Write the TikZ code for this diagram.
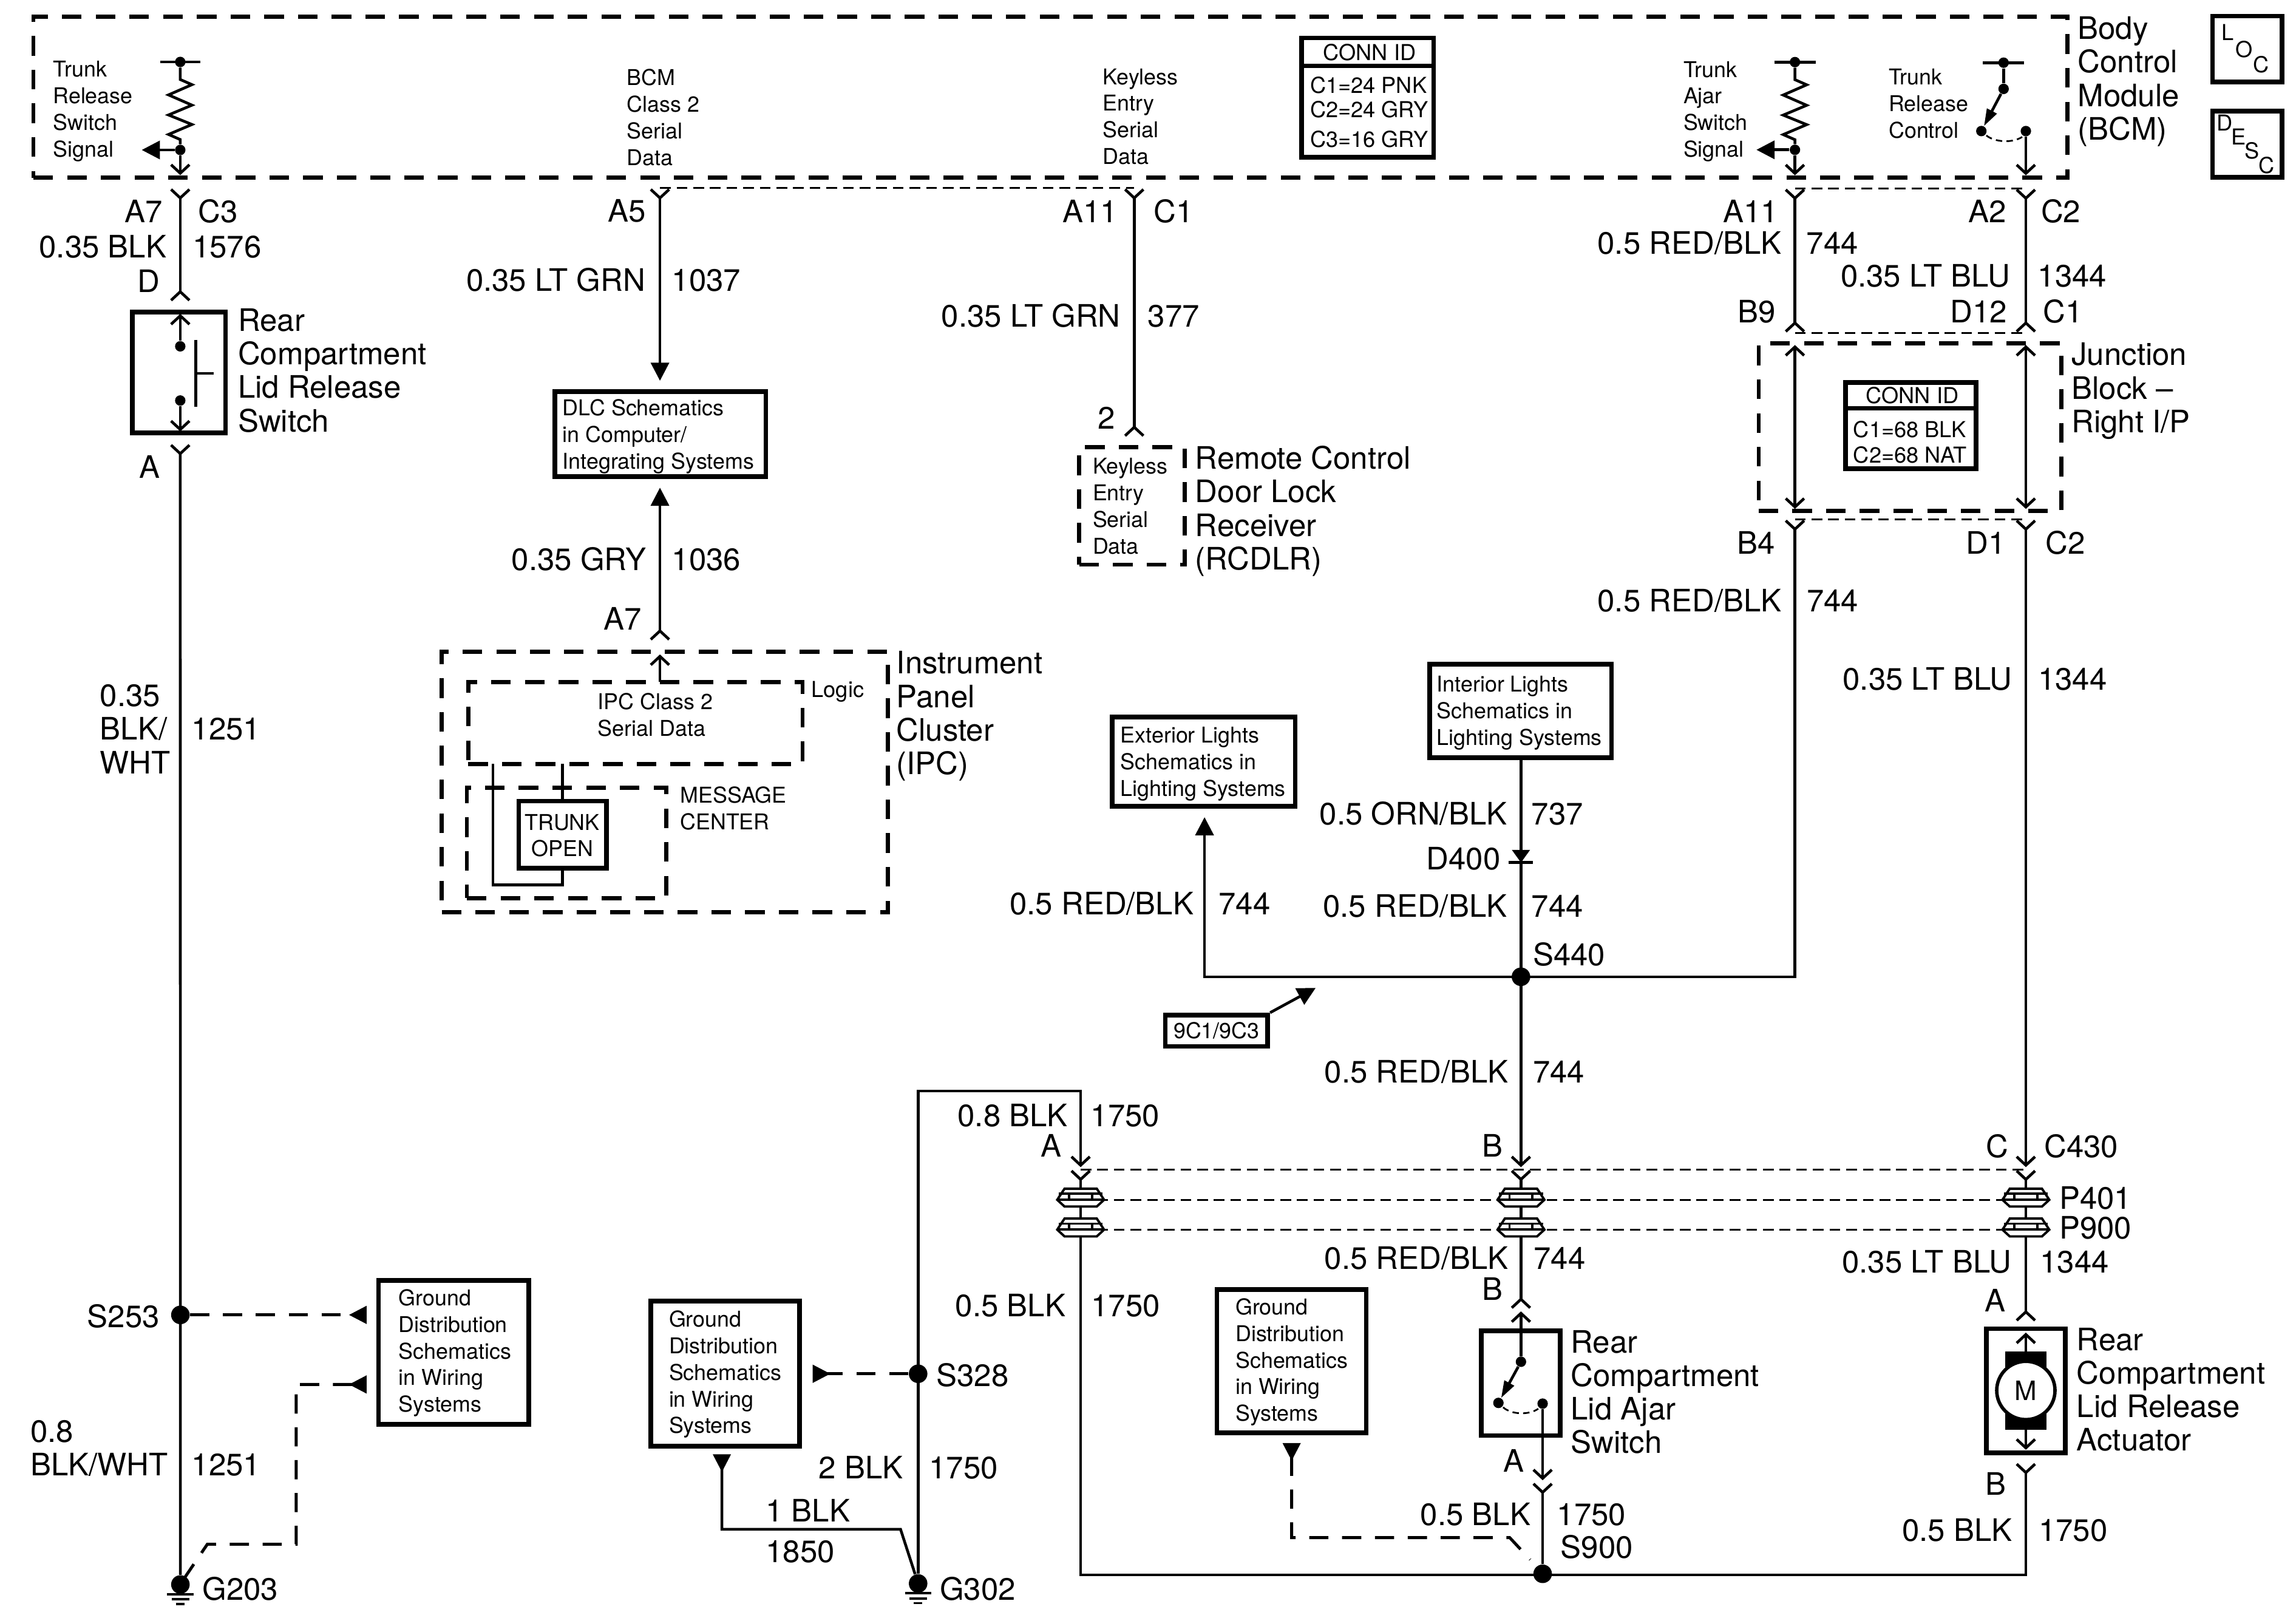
\documentclass[tikz,border=0pt]{standalone}
\usepackage{fontspec}
\setmainfont{TeX Gyre Heros}
\usetikzlibrary{arrows.meta,shapes,positioning}
\def\pxu{0.2412mm}
\tikzset{
  fem/.tip={Straight Barb[reversed,length=4pt,width=8.6pt]},
  male/.tip={Straight Barb[length=4pt,width=8.6pt]},
  tri/.tip={Triangle[length=8.5pt,width=8.5pt]},
  trir/.tip={Triangle[reversed,length=8.3pt,width=8.2pt]},
  armtip/.tip={Triangle[length=8pt,width=5pt]}
}
\tikzstyle{wire} = [draw, line width=1.3pt]
\tikzstyle{gline} = [draw, line width=1.1pt]
\tikzstyle{plugline} = [draw, line width=1.1pt]
\tikzstyle{thindash} = [draw, line width=0.8pt, dash pattern=on 5pt off 2.8pt]
\tikzstyle{arcdash} = [draw, line width=0.8pt, dash pattern=on 3pt off 2pt]
\tikzstyle{refdash} = [draw, line width=1.4pt, dash pattern=on 9pt off 6.4pt]
\tikzstyle{rbox} = [rectangle, draw, line width=2.2pt, inner sep=0pt]
\tikzstyle{dashbox} = [rectangle, draw, line width=1.9pt, dash pattern=on 9.2pt off 6.6pt, inner sep=0pt]
\tikzstyle{sdot} = [circle, fill=black, inner sep=0pt, minimum size=4.9pt]
\tikzstyle{bdot} = [circle, fill=black, inner sep=0pt, minimum size=8.7pt]
\tikzstyle{bigtxt} = [inner sep=0pt, yshift=-0.6pt, align=left, anchor=north west, font=\fontsize{14.5}{15.7}\selectfont]
\tikzstyle{smalltxt} = [inner sep=0pt, align=left, anchor=north west, font=\fontsize{10.2}{12.45}\selectfont]
\tikzstyle{wl} = [inner sep=0pt, yshift=-0.6pt, anchor=base east, font=\fontsize{14.5}{15.7}\selectfont]
\tikzstyle{wr} = [inner sep=0pt, yshift=-0.6pt, anchor=base west, font=\fontsize{14.5}{15.7}\selectfont]
\tikzstyle{letter} = [inner sep=0pt, anchor=base west, font=\fontsize{10.3}{12}\selectfont]
\newcommand{\plug}[2]{
  \begin{scope}[shift={(#1,#2)}]
    \path[plugline, fill=white] (-16,0) -- (-11,-7.6) -- (11,-7.6) -- (16,0) -- (11,4.6) -- (-11,4.6) -- cycle;
    \path[plugline] (-15,-4.1) -- (15,-4.1);
    \path[plugline] (-16,0) -- (16,0);
    \path[plugline] (-7.8,-4.1) -- (-7.8,0);
    \path[plugline] (7.8,-4.1) -- (7.8,0);
  \end{scope}
}
\newcommand{\groundsym}[1]{
  \path[gline] ([xshift=-6.2pt,yshift=-4.5pt]#1.center) -- ([xshift=6.2pt,yshift=-4.5pt]#1.center);
  \path[gline] ([xshift=-4.1pt,yshift=-7pt]#1.center) -- ([xshift=4.1pt,yshift=-7pt]#1.center);
  \path[gline] ([xshift=-2pt,yshift=-9.2pt]#1.center) -- ([xshift=2pt,yshift=-9.2pt]#1.center);
}
\begin{document}
\begin{tikzpicture}[x=\pxu,y=-\pxu]
\useasboundingbox (0,0) rectangle (1568,1104.5);

% boxes ==================================

\node[dashbox, minimum width=1389*\pxu, minimum height=109.8*\pxu] (bcm) at (717.3,66.4) {};
\node[dashbox, minimum width=304.7*\pxu, minimum height=178.1*\pxu] (ipc) at (454,534) {};
\node[dashbox, minimum width=228.3*\pxu, minimum height=56*\pxu] (logic) at (433.9,493.7) {};
\node[dashbox, minimum width=136.3*\pxu, minimum height=75.5*\pxu] (msg) at (387,575.6) {};
\node[dashbox, minimum width=72.2*\pxu, minimum height=80.2*\pxu] (rcdlr) at (773.1,345.5) {};
\node[dashbox, minimum width=206.8*\pxu, minimum height=114.3*\pxu] (jblock) at (1304.4,291.6) {};

\node[rbox, minimum width=63.7*\pxu, minimum height=82.5*\pxu] (relsw) at (122.2,254.3) {};
\node[rbox, minimum width=144*\pxu, minimum height=58*\pxu] (dlc) at (451,296.5) {};
\node[rbox, minimum width=60*\pxu, minimum height=46*\pxu] (topen) at (384.3,570) {};
\node[rbox, minimum width=90*\pxu, minimum height=81.6*\pxu] (conn1) at (934,66.7) {};
\node[rbox, minimum width=88.9*\pxu, minimum height=59*\pxu] (conn2) at (1304.9,290.6) {};
\node[rbox, minimum width=124*\pxu, minimum height=64*\pxu] (intl) at (1038.5,485.5) {};
\node[rbox, minimum width=125*\pxu, minimum height=61*\pxu] (extl) at (822,520) {};
\node[rbox, minimum width=102.7*\pxu, minimum height=98.5*\pxu] (gnd1) at (309.9,923.5) {};
\node[rbox, minimum width=101.7*\pxu, minimum height=99*\pxu] (gnd2) at (495.2,938) {};
\node[rbox, minimum width=102*\pxu, minimum height=98*\pxu] (gnd3) at (882,929.5) {};
\node[rbox, minimum width=54*\pxu, minimum height=71.5*\pxu] (ajarsw) at (1038.5,944.5) {};
\node[rbox, minimum width=54*\pxu, minimum height=84.8*\pxu] (actuator) at (1383.5,949.7) {};
\node[rbox, minimum width=47.4*\pxu, minimum height=45*\pxu] (loc) at (1534.7,33.5) {};
\node[rbox, minimum width=47.4*\pxu, minimum height=45.2*\pxu] (desc) at (1534.7,98.4) {};
\node[rbox, minimum width=70*\pxu, minimum height=21.4*\pxu, font=\fontsize{10.2}{12}\selectfont] (tag) at (830.8,703.8) {9C1/9C3};

% dots ===================================

\node[sdot] (t1top) at (123.1,42.3) {};
\node[sdot] (t1sig) at (123.1,102.4) {};
\node[sdot] (t2top) at (1225.8,42.4) {};
\node[sdot] (t2sig) at (1225.8,102.3) {};
\node[sdot] (rctop) at (1368.3,42.8) {};
\node[sdot] (rcpiv) at (1368.3,60.7) {};
\node[sdot] (rcc1) at (1353.1,89.5) {};
\node[sdot] (rcc2) at (1383.5,89.5) {};
\node[sdot] (sw1a) at (123.1,236.5) {};
\node[sdot] (sw1b) at (123.1,273.5) {};
\node[sdot] (aj1) at (1038.7,929.9) {};
\node[sdot] (aj2) at (1023.3,958) {};
\node[sdot] (aj3) at (1053.5,958.5) {};
\node[bdot] (s253) at (123.2,897.9) {};
\node[bdot] (s328) at (627,938.1) {};
\node[bdot] (s440) at (1038.7,667) {};
\node[bdot] (s900) at (1053.5,1074.7) {};
\node[bdot] (g203) at (123.2,1082) {};
\node[bdot] (g302) at (627,1081.3) {};

% wire ends
\coordinate (w1a) at (123.1,128.4);
\coordinate (w1b) at (123.1,206);
\coordinate (w1c) at (123.1,303);
\coordinate (sw1t) at (123.1,214.3);
\coordinate (sw1d) at (123.1,294.6);
\coordinate (t1m) at (123.1,119.6);
\coordinate (t1a) at (96.8,102.4);
\coordinate (w2a) at (450.7,128.4);
\coordinate (w2b) at (450.7,260);
\coordinate (w2c) at (450.7,333);
\coordinate (w2d) at (450.7,437.6);
\coordinate (ipct) at (450.7,465.7);
\coordinate (ipcm) at (450.7,446.9);
\coordinate (w3a) at (774.6,128.4);
\coordinate (w3b) at (774.6,298.5);
\coordinate (w4a) at (1225.8,128.6);
\coordinate (w4b) at (1225.8,227.3);
\coordinate (w4c) at (1225.8,235.6);
\coordinate (w4d) at (1225.8,347.5);
\coordinate (w4e) at (1225.8,354.6);
\coordinate (w4f) at (1225.8,667);
\coordinate (w4g) at (822.6,667);
\coordinate (w4h) at (822.6,558);
\coordinate (t2m) at (1225.8,119.7);
\coordinate (t2a) at (1199.5,102.3);
\coordinate (w5a) at (1383.5,128.6);
\coordinate (w5b) at (1383.5,227.3);
\coordinate (w5c) at (1383.5,235.6);
\coordinate (w5d) at (1383.5,347.5);
\coordinate (w5e) at (1383.5,354.6);
\coordinate (w5f) at (1383.5,797);
\coordinate (w5g) at (1383.5,798.6);
\coordinate (w5h) at (1383.5,902.6);
\coordinate (w5i) at (1383.5,910);
\coordinate (w5j) at (1383.5,923);
\coordinate (w5k) at (1383.5,976);
\coordinate (w5l) at (1383.5,990);
\coordinate (w5m) at (1383.5,998.8);
\coordinate (w5n) at (1383.5,1075.4);
\coordinate (rcm) at (1383.5,119.7);
\coordinate (w6a) at (738,1075.4);
\coordinate (w6b) at (738,798.6);
\coordinate (w6c) at (738,797);
\coordinate (w6d) at (738,745);
\coordinate (w6e) at (627,745);
\coordinate (w7a) at (1038.7,517.5);
\coordinate (w7b) at (1038.7,797);
\coordinate (w7c) at (1038.7,798.6);
\coordinate (w7d) at (1038.7,894);
\coordinate (w7e) at (1038.7,895.5);
\coordinate (w8a) at (1053.5,1010.8);
\coordinate (w8b) at (1053.5,1012.3);
\coordinate (w9a) at (493,993.1);
\coordinate (w9b) at (493,1044.3);
\coordinate (w9c) at (615,1044.3);
\coordinate (tagto) at (898.5,674.6);
\coordinate (gt1) at (250.4,897.9);
\coordinate (gt2) at (250.4,945.4);
\coordinate (gt3) at (555,938.1);
\coordinate (gt4) at (882.1,985.4);
\coordinate (gd1) at (202.3,945.4);
\coordinate (gd2) at (202.3,1054.5);
\coordinate (gd3) at (141.6,1054.5);
\coordinate (gd4) at (125,1079);
\coordinate (gd5) at (882.1,1050);
\coordinate (gd6) at (1031,1050);
\coordinate (gd7) at (1045,1065);

% edges ==================================

\path[wire, fem-fem] (w1a) -- (w1b);
\path[wire, -male] (sw1a) -- (sw1t);
\path[wire, -male] (sw1b) -- (sw1d);
\path[wire, fem-] (w1c) -- (g203);
\path[wire, -tri] (t1sig) -- (t1a);
\path[wire, -male] (t1sig) -- (t1m);
\path[wire] (t1top) -- ++(0,12) -- ++(8,3.5) -- ++(-16,7) -- ++(16,7) -- ++(-16,6.7) -- ++(16,6.5) -- ++(-16,6.8) -- ++(8,3.5) -- (t1sig);
\path[wire] ([xshift=-9.5pt]t1top.center) -- ([xshift=9.5pt]t1top.center);
\path[wire] (133.6,232) -- (133.6,277.7);
\path[wire] (133.6,255) -- (146,255);

\path[wire, fem-tri] (w2a) -- (w2b);
\path[wire, tri-fem] (w2c) -- (w2d);
\path[wire, -male] (ipct) -- (ipcm);
\path[wire, fem-fem] (w3a) -- (w3b);
\path[wire] (336.6,521.7) -- (336.6,604.2) -- (384,604.2) -- (384,593);
\path[wire] (384,521.7) -- (384,547);

\path[wire, fem-fem] (w4a) -- (w4b);
\path[wire, male-male] (w4c) -- (w4d);
\path[wire, fem-tri] (w4e) -- (w4f) -- (w4g) -- (w4h);
\path[wire, -tri] (t2sig) -- (t2a);
\path[wire, -male] (t2sig) -- (t2m);
\path[wire] (t2top) -- ++(0,12) -- ++(8,3.5) -- ++(-16,7) -- ++(16,7) -- ++(-16,6.7) -- ++(16,6.5) -- ++(-16,6.8) -- ++(8,3.5) -- (t2sig);
\path[wire] ([xshift=-9.7pt]t2top.center) -- ([xshift=9.7pt]t2top.center);

\path[wire] ([xshift=-9.7pt]rctop.center) -- ([xshift=9.7pt]rctop.center);
\path[wire] (rctop) -- (rcpiv);
\path[wire, -armtip] (rcpiv) -- (rcc1);
\path[wire, -male] (rcc2) -- (rcm);
\draw[arcdash] (1356.5,92.5) .. controls (1362,97) and (1374,98) .. (1381,93.5);

\path[wire, fem-fem] (w5a) -- (w5b);
\path[wire, male-male] (w5c) -- (w5d);
\path[wire, fem-male] (w5e) -- (w5f);
\path[wire, fem-fem] (w5g) -- (w5h);
\path[wire, -male] (w5j) -- (w5i);
\path[wire, -male] (w5k) -- (w5l);
\path[wire, fem-fem] (w5m) -- (w5n) -- (w6a) -- (w6b);
\path[wire, -male] (g302) -- (w6e) -- (w6d) -- (w6c);
\path[wire, -male] (w7a) -- (w7b);
\path[wire, fem-fem] (w7c) -- (w7d);
\path[wire, -male] (aj1) -- (w7e);
\path[wire, -armtip] (aj1) -- (aj2);
\path[wire, -male] (aj3) -- (w8a);
\path[wire, fem-] (w8b) -- (s900);
\draw[arcdash] (1026.5,961) .. controls (1032,966) and (1044,966.5) .. (1050.5,962);

\path[wire, trir-] (w9a) -- (w9b) -- (w9c) -- (g302);
\path[wire, -tri] (tag.north east) -- (tagto);

% dashed joints
\path[thindash] (w2a) -- (w3a);
\path[thindash] (w4a) -- (w5a);
\path[thindash] (w4b) -- (w5b);
\path[thindash] (w4e) -- (w5e);
\path[thindash] (w6b) -- (w5g);
\path[thindash] (738,819.3) -- (1383.5,819.3);
\path[thindash] (738,839.7) -- (1383.5,839.7);

% schematic references
\path[refdash, -trir] (s253) -- (gt1);
\path[refdash, -trir] (gd4) -- (gd3) -- (gd2) -- (gd1) -- (gt2);
\path[refdash, -trir] (s328) -- (gt3);
\path[refdash, trir-] (gt4) -- (gd5) -- (gd6) -- (gd7);

% diode
\fill (1032.5,580.4) -- (1044.9,580.4) -- (1038.7,589) -- cycle;
\path[wire] (1030.4,589) -- (1047,589);

% motor
\node[rectangle, fill=black, inner sep=0pt, minimum width=28.2*\pxu, minimum height=53.2*\pxu] (mbody) at (1383.6,949.6) {};
\node[circle, draw, fill=white, line width=1.6pt, inner sep=0pt, minimum size=39.8*\pxu, font=\fontsize{12.5}{14}\selectfont] (motor) at (1383.5,949.5) {M};

% connectors
\plug{738}{819.3}
\plug{738}{839.7}
\plug{1038.7}{819.3}
\plug{1038.7}{839.7}
\plug{1383.5}{819.3}
\plug{1383.5}{839.7}

% grounds
\groundsym{g203}
\groundsym{g302}

% conn id tables
\path[wire, line width=2pt] (889,44.9) -- (979,44.9);
\path[wire, line width=2pt] (1260.4,279) -- (1349.3,279);
\node[letter, anchor=base] (c1head) at (935.3,41.2) {CONN ID};
\node[letter] (c1a) at (894.4,63.5) {C1=24 PNK};
\node[letter] (c1b) at (894.4,80.4) {C2=24 GRY};
\node[letter] (c1c) at (894.4,100.4) {C3=16 GRY};
\node[letter, anchor=base] (c2head) at (1306,275.6) {CONN ID};
\node[letter] (c2a) at (1265.4,298.7) {C1=68 BLK};
\node[letter] (c2b) at (1265.4,316) {C2=68 NAT};

% loc and desc
\node[letter] (locl) at (1517,27.4) {L};
\node[letter] (loco) at (1526.5,39.3) {O};
\node[letter] (locc) at (1538.5,49.5) {C};
\node[letter] (descd) at (1513.4,89.3) {D};
\node[letter] (desce) at (1523.4,98.8) {E};
\node[letter] (descs) at (1532.8,108.3) {S};
\node[letter] (descc) at (1542.3,118.3) {C};

% component names ========================

\node[bigtxt] (nmbcm) at (1418.7,10.3) {Body\\Control\\Module\\(BCM)};
\node[bigtxt] (nmsw) at (162.3,209.6) {Rear\\Compartment\\Lid Release\\Switch};
\node[bigtxt] (nmipc) at (612,443.6) {Instrument\\Panel\\Cluster\\(IPC)};
\node[bigtxt] (nmrc) at (816,303.4) {Remote Control\\Door Lock\\Receiver\\(RCDLR)};
\node[bigtxt] (nmjb) at (1414.5,233) {Junction\\Block –\\Right I/P};
\node[bigtxt] (nmaj) at (1072.5,907.3) {Rear\\Compartment\\Lid Ajar\\Switch};
\node[bigtxt] (nmac) at (1418,905.5) {Rear\\Compartment\\Lid Release\\Actuator};
\node[bigtxt] (wbw1) at (68,466.3) {0.35\\BLK/\\WHT};
\node[bigtxt] (wbw2) at (20.5,968.7) {0.8\\BLK/WHT};

\node[smalltxt] (tx1) at (36,41.5) {Trunk\\Release\\Switch\\Signal};
\node[smalltxt] (tx2) at (427.8,47) {BCM\\Class 2\\Serial\\Data};
\node[smalltxt] (tx3) at (753,46.5) {Keyless\\Entry\\Serial\\Data};
\node[smalltxt] (tx4) at (1149.4,41.6) {Trunk\\Ajar\\Switch\\Signal};
\node[smalltxt] (tx5) at (1289.6,46.8) {Trunk\\Release\\Control};
\node[smalltxt] (tx6) at (384,272.4) {DLC Schematics\\in Computer/\\Integrating Systems};
\node[smalltxt] (tx7) at (408,473.2) {IPC Class 2\\Serial Data};
\node[smalltxt] (tx8) at (464.2,536.9) {MESSAGE\\CENTER};
\node[smalltxt] (tx9) at (746,312.6) {Keyless\\Entry\\Serial\\Data};
\node[smalltxt] (tx10) at (981,461.3) {Interior Lights\\Schematics in\\Lighting Systems};
\node[smalltxt] (tx11) at (765,496.3) {Exterior Lights\\Schematics in\\Lighting Systems};
\node[smalltxt] (tx12) at (272,880.2) {Ground\\Distribution\\Schematics\\in Wiring\\Systems};
\node[smalltxt] (tx13) at (456.6,894.8) {Ground\\Distribution\\Schematics\\in Wiring\\Systems};
\node[smalltxt] (tx14) at (843.5,886.4) {Ground\\Distribution\\Schematics\\in Wiring\\Systems};
\node[smalltxt, anchor=north, align=center] (tx15) at (384,555.7) {TRUNK\\OPEN};
\node[letter] (tx16) at (553.9,476) {Logic};

% wire labels ============================

\node[wl] (l1) at (111.5,151) {A7};
\node[wr] (l2) at (135,151) {C3};
\node[wl] (l3) at (114,175) {0.35 BLK};
\node[wr] (l4) at (131.2,175) {1576};
\node[wl] (l5) at (109.5,198.8) {D};
\node[wl] (l6) at (109.5,325.7) {A};
\node[wr] (l7) at (130.6,504.5) {1251};
\node[wl] (l8) at (109.2,905.5) {S253};
\node[wr] (l9) at (130.6,1006.6) {1251};
\node[wr] (l10) at (138,1091.8) {G203};

\node[wl] (l11) at (441.5,150.5) {A5};
\node[wl] (l12) at (441,197.8) {0.35 LT GRN};
\node[wr] (l13) at (458.6,197.8) {1037};
\node[wl] (l14) at (441.5,388.5) {0.35 GRY};
\node[wr] (l15) at (458.6,388.5) {1036};
\node[wl] (l16) at (438.5,429.4) {A7};

\node[wl] (l17) at (763.5,151) {A11};
\node[wr] (l18) at (787.6,151) {C1};
\node[wl] (l19) at (765.5,222.5) {0.35 LT GRN};
\node[wr] (l20) at (783.6,222.5) {377};
\node[wl] (l21) at (762,291.9) {2};

\node[wl] (l22) at (1214.5,151) {A11};
\node[wl] (l23) at (1370.6,151) {A2};
\node[wr] (l24) at (1393.6,151) {C2};
\node[wl] (l25) at (1217,172.6) {0.5 RED/BLK};
\node[wr] (l26) at (1233.4,172.6) {744};
\node[wl] (l27) at (1373,195.2) {0.35 LT BLU};
\node[wr] (l28) at (1391.4,195.2) {1344};
\node[wl] (l29) at (1213,219.6) {B9};
\node[wl] (l30) at (1371,219.6) {D12};
\node[wr] (l31) at (1395,219.6) {C1};
\node[wl] (l32) at (1212.4,377.5) {B4};
\node[wl] (l33) at (1370,377.5) {D1};
\node[wr] (l34) at (1396.6,377.5) {C2};
\node[wl] (l35) at (1217,417) {0.5 RED/BLK};
\node[wr] (l36) at (1233.6,417) {744};
\node[wl] (l37) at (1374.5,470.5) {0.35 LT BLU};
\node[wr] (l38) at (1391.6,470.5) {1344};

\node[wl] (l39) at (1029.5,562.5) {0.5 ORN/BLK};
\node[wr] (l40) at (1045.6,562.5) {737};
\node[wl] (l41) at (1025,592.9) {D400};
\node[wl] (l42) at (1029.5,625.5) {0.5 RED/BLK};
\node[wr] (l43) at (1045.6,625.5) {744};
\node[wr] (l44) at (1046.6,658.5) {S440};
\node[wl] (l45) at (815.5,623.5) {0.5 RED/BLK};
\node[wr] (l46) at (832,623.5) {744};
\node[wl] (l47) at (1030.5,738.5) {0.5 RED/BLK};
\node[wr] (l48) at (1046.6,738.5) {744};

\node[wl] (l49) at (729.5,768.5) {0.8 BLK};
\node[wr] (l50) at (744.6,768.5) {1750};
\node[wl] (l51) at (725,789) {A};
\node[wl] (l52) at (1026.7,789) {B};
\node[wl] (l53) at (1372,789.6) {C};
\node[wr] (l54) at (1395.8,789.6) {C430};
\node[wr] (l55) at (1406,824.7) {P401};
\node[wr] (l56) at (1406,844.9) {P900};
\node[wl] (l57) at (1030.5,866) {0.5 RED/BLK};
\node[wr] (l58) at (1047.2,866) {744};
\node[wl] (l59) at (1374,868.1) {0.35 LT BLU};
\node[wr] (l60) at (1393,868.1) {1344};
\node[wl] (l61) at (1026.7,886.9) {B};
\node[wl] (l62) at (1369.7,895) {A};
\node[wl] (l63) at (728,898.3) {0.5 BLK};
\node[wr] (l64) at (745,898.3) {1750};
\node[wr] (l65) at (639.2,945.8) {S328};
\node[wl] (l66) at (1041,1004.4) {A};
\node[wl] (l67) at (1370.2,1019.9) {B};
\node[wl] (l68) at (617,1009) {2 BLK};
\node[wr] (l69) at (634.3,1009) {1750};
\node[wr] (l70) at (522.7,1038.3) {1 BLK};
\node[wr] (l71) at (522.7,1065.9) {1850};
\node[wl] (l72) at (1045.5,1040.8) {0.5 BLK};
\node[wr] (l73) at (1063,1040.8) {1750};
\node[wr] (l74) at (1065.6,1063) {S900};
\node[wl] (l75) at (1374.5,1051.5) {0.5 BLK};
\node[wr] (l76) at (1392,1051.5) {1750};
\node[wr] (l77) at (641.5,1091.8) {G302};

\end{tikzpicture}
\end{document}
